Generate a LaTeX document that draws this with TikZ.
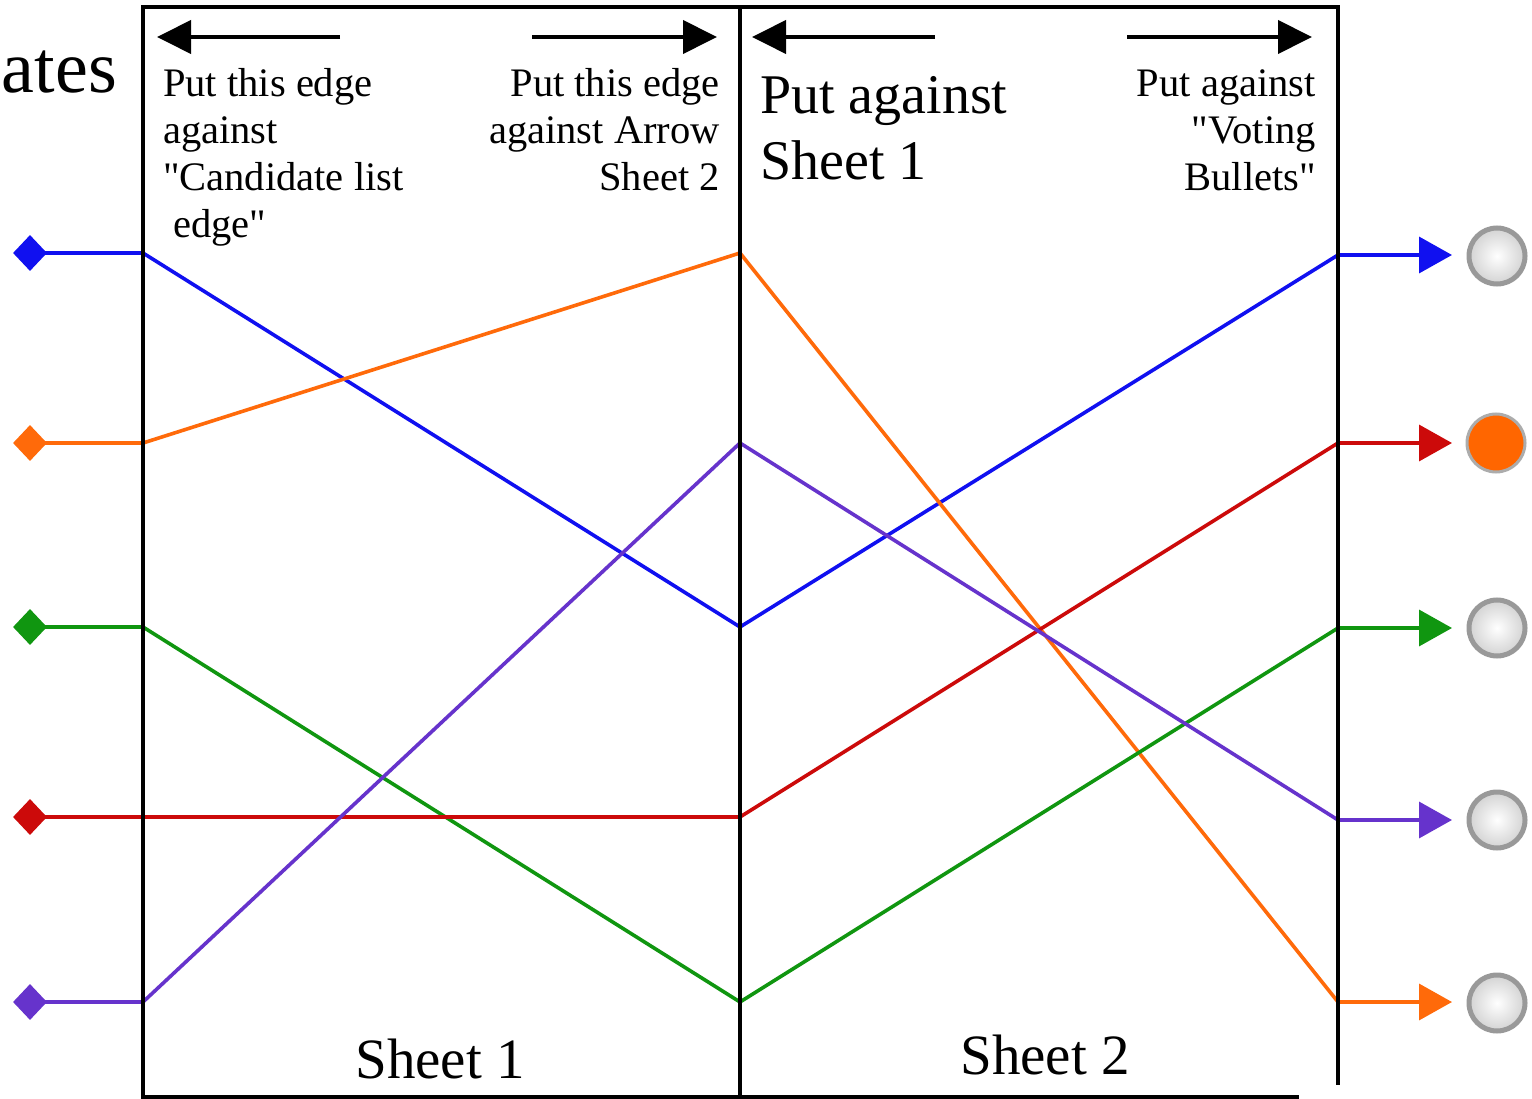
\documentclass[tikz,border=0pt]{standalone}
\usepackage{fontspec}
\setmainfont{Liberation Serif}[Ligatures=TeXOff]
\usetikzlibrary{arrows.meta,shapes.geometric}
\definecolor{cblue}{RGB}{16,16,240}
\definecolor{corange}{RGB}{255,106,10}
\definecolor{cgreen}{RGB}{16,150,16}
\definecolor{cred}{RGB}{204,10,10}
\definecolor{cpurple}{RGB}{102,51,204}
\definecolor{borange}{RGB}{255,102,0}
\begin{document}
\begin{tikzpicture}[x=1pt,y=-1pt,
  frame/.style={line width=4.5pt,black},
  topArrow/.style={line width=4pt,black,-{Triangle[length=34pt,width=33pt]}},
  cline/.style={line width=3.6pt,line join=round,-{Triangle[length=33pt,width=36pt]}},
  diam/.style={diamond,inner sep=0pt,minimum width=34pt,minimum height=36pt,draw=none},
  smalltxt/.style={inner sep=0pt,font=\fontsize{40.5}{47}\selectfont},
  bigtxt/.style={inner sep=0pt,font=\fontsize{56}{66}\selectfont},
  sheettxt/.style={inner sep=0pt,font=\fontsize{57}{66}\selectfont},
  emptybullet/.style={circle,minimum size=56pt,inner sep=0pt,draw=gray!80,line width=5pt,inner color=white,outer color=gray!35},
  fullbullet/.style={circle,minimum size=58pt,inner sep=0pt,draw=gray!65,line width=3pt,fill=borange}
]
\useasboundingbox (0,0) rectangle (1532,1099);
\fill[white] (0,0) rectangle (1532,1099);

% coordinates
\foreach \i/\y in {1/253,2/443,3/627,4/817,5/1002}{
  \coordinate (L\i) at (143,\y);
  \coordinate (M\i) at (740,\y);
}
\foreach \i/\y in {1/255,2/443,3/628,4/820,5/1002}{
  \coordinate (R\i) at (1338,\y);
  \coordinate (A\i) at (1452,\y);
}

% diamonds
\node[diam,fill=cblue] (D1) at (30,253) {};
\node[diam,fill=corange] (D2) at (30,443) {};
\node[diam,fill=cgreen] (D3) at (30,627) {};
\node[diam,fill=cred] (D4) at (30,817) {};
\node[diam,fill=cpurple] (D5) at (30,1002) {};

% connectors
\draw[cline,cblue] (D1.center) -- (L1) -- (M3) -- (R1) -- (A1);
\draw[cline,corange] (D2.center) -- (L2) -- (M1) -- (R5) -- (A5);
\draw[cline,cgreen] (D3.center) -- (L3) -- (M5) -- (R3) -- (A3);
\draw[cline,cred] (D4.center) -- (L4) -- (M4) -- (R2) -- (A2);
\draw[cline,cpurple] (D5.center) -- (L5) -- (M2) -- (R4) -- (A4);

% frame
\coordinate (TL) at (143,7);
\coordinate (BL) at (143,1097);
\coordinate (TM) at (740,7);
\coordinate (BM) at (740,1097);
\coordinate (TR) at (1338,7);
\coordinate (BR) at (1338,1083);
\coordinate (BE) at (1297,1097);
\draw[frame,line cap=rect] (BE) -- (BL) -- (TL) -- (TR) -- (BR);
\draw[frame] (TM) -- (BM);

% top arrows
\coordinate (a1s) at (340,37); \coordinate (a1e) at (157,37);
\coordinate (a2s) at (532,37); \coordinate (a2e) at (717,37);
\coordinate (a3s) at (935,37); \coordinate (a3e) at (752,37);
\coordinate (a4s) at (1127,37); \coordinate (a4e) at (1312,37);
\draw[topArrow] (a1s) -- (a1e);
\draw[topArrow] (a2s) -- (a2e);
\draw[topArrow] (a3s) -- (a3e);
\draw[topArrow] (a4s) -- (a4e);

% texts
\node[inner sep=0pt,font=\fontsize{74}{80}\selectfont,anchor=base east] (ates) at (117,93) {ates};
\node[smalltxt,anchor=north west,align=left] (t1) at (163,68) {Put this edge\\against\\"Candidate list\\\ edge"};
\node[smalltxt,anchor=north east,align=right] (t2) at (720,68) {Put this edge\\against Arrow\\Sheet 2};
\node[bigtxt,anchor=north west,align=left] (t3) at (760,76) {Put against\\Sheet 1};
\node[smalltxt,anchor=north east,align=right] (t4) at (1316,69) {Put against\\"Voting\\Bullets"};
\node[sheettxt,anchor=base] (s1) at (440,1078) {Sheet 1};
\node[sheettxt,anchor=base] (s2) at (1045,1074) {Sheet 2};

% bullets
\node[emptybullet] (B1) at (1497,256) {};
\node[fullbullet] (B2) at (1496,443) {};
\node[emptybullet] (B3) at (1497,628) {};
\node[emptybullet] (B4) at (1497,820) {};
\node[emptybullet] (B5) at (1497,1003) {};
\end{tikzpicture}
\end{document}
